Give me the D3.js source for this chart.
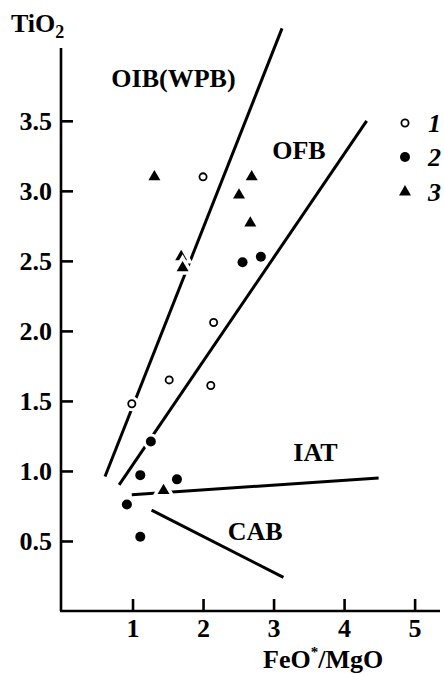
<!DOCTYPE html>
<html>
<head>
<meta charset="utf-8">
<script src="https://cdn.jsdelivr.net/npm/d3@7"></script>
<style>
  html, body { margin: 0; padding: 0; background: #fff; }
  svg { display: block; }
  svg text { font-family: "Liberation Serif", "DejaVu Serif", "Times New Roman", Times, serif !important; fill: #000; }
</style>
</head>
<body>
<svg id="chart" width="444" height="675"></svg>
<script>
// Sample groups: FeO*/MgO (x) vs TiO2 (y)
const group1X = [0.99, 1.52, 2.11, 2.15, 2.00];
const group1Y = [1.48, 1.65, 1.61, 2.06, 3.10];

const group2X = [1.26, 1.11, 1.63, 0.92, 1.11, 2.56, 2.82];
const group2Y = [1.21, 0.97, 0.94, 0.76, 0.53, 2.49, 2.53];

const group3X = [1.31, 2.69, 2.51, 2.67, 1.69, 1.71, 1.44];
const group3Y = [3.10, 3.10, 2.97, 2.77, 2.53, 2.45, 0.86];

// Discrimination boundaries (start and end points)
const boundaryNames = ["OIB-OFB", "OFB-IAT", "IAT", "CAB"];
const boundaryX = [[0.61, 3.12], [0.81, 4.32], [0.99, 4.49], [1.27, 3.14]];
const boundaryY = [[0.96, 4.16], [0.90, 3.50], [0.83, 0.95], [0.72, 0.24]];

// Field labels
const fieldNames = ["OIB(WPB)", "OFB", "IAT", "CAB"];
const fieldX = [0.70, 2.98, 3.28, 2.35];
const fieldY = [3.74, 3.23, 1.07, 0.51];

const xTicks = [1, 2, 3, 4, 5];
const yTicks = [0.5, 1.0, 1.5, 2.0, 2.5, 3.0, 3.5];
const legendLabels = ["1", "2", "3"];

const SERIF = "'Liberation Serif', 'DejaVu Serif', 'Times New Roman', Times, serif";

const svg = d3.select("#chart");
const x = d3.scaleLinear().domain([0, 5.36]).range([62, 440]);
const y = d3.scaleLinear().domain([0, 4.02]).range([611, 48]);

const FS = 26;

// Axes
const yAxis = d3.axisLeft(y).tickValues(yTicks).tickSize(-12).tickPadding(9)
  .tickFormat(d3.format(".1f"));
const xAxis = d3.axisBottom(x).tickValues(xTicks).tickSize(-12).tickPadding(8)
  .tickFormat(d3.format("d"));

const gy = svg.append("g").attr("transform", `translate(${x(0) - 1},0)`).call(yAxis);
const gx = svg.append("g").attr("transform", `translate(0,${y(0)})`).call(xAxis);
[gx, gy].forEach(g => {
  g.attr("font-family", SERIF).attr("font-size", FS);
  g.select(".domain").attr("stroke", "#000").attr("stroke-width", 2.6);
  g.selectAll(".tick line").attr("stroke", "#000").attr("stroke-width", 2.6);
  g.selectAll(".tick text").style("font-family", SERIF)
    .attr("font-size", FS).attr("font-weight", "bold").attr("fill", "#000");
});
gx.select(".domain").attr("d", `M${x(0) - 2},0H${x(5.36)}`);
gy.select(".domain").attr("d", `M0,${y(0)}V${y(4.02)}`);

// Boundary lines
const line = d3.line().x(d => x(d[0])).y(d => y(d[1]));
boundaryNames.forEach((name, i) => {
  svg.append("path")
    .attr("d", line([[boundaryX[i][0], boundaryY[i][0]], [boundaryX[i][1], boundaryY[i][1]]]))
    .attr("fill", "none").attr("stroke", "#000").attr("stroke-width", 3)
    .attr("stroke-linecap", "butt");
});

// Field labels
fieldNames.forEach((t, i) => {
  svg.append("text").attr("x", x(fieldX[i])).attr("y", y(fieldY[i]))
    .style("font-family", SERIF)
    .attr("font-size", FS).attr("font-weight", "bold").text(t);
});

// Marker drawing with a white halo so boundary lines break around points
const triPath = d3.symbol().type(d3.symbolTriangle);
function drawMarker(g, kind, cx, cy, halo) {
  if (kind === 1) {
    g.append("circle").attr("cx", cx).attr("cy", cy).attr("r", halo ? 7.5 : 3.6)
      .attr("fill", "#fff").attr("stroke", halo ? "none" : "#000").attr("stroke-width", 1.8);
  } else if (kind === 2) {
    g.append("circle").attr("cx", cx).attr("cy", cy).attr("r", halo ? 8 : 5)
      .attr("fill", halo ? "#fff" : "#000");
  } else {
    g.append("path").attr("d", triPath.size(halo ? 150 : 62)())
      .attr("transform", `translate(${cx},${cy})`)
      .attr("fill", halo ? "#fff" : "#000")
      .attr("stroke", halo ? "#fff" : "none").attr("stroke-width", halo ? 3 : 0);
  }
}

const pts = [];
group1X.forEach((v, i) => pts.push({ k: 1, x: v, y: group1Y[i] }));
group2X.forEach((v, i) => pts.push({ k: 2, x: v, y: group2Y[i] }));
group3X.forEach((v, i) => pts.push({ k: 3, x: v, y: group3Y[i] }));

const gp = svg.append("g");
pts.forEach(p => {
  drawMarker(gp, p.k, x(p.x), y(p.y), true);
  drawMarker(gp, p.k, x(p.x), y(p.y), false);
});

// Legend
const legendY = [123, 157, 192];
legendLabels.forEach((t, i) => {
  drawMarker(svg, i + 1, 405, legendY[i], false);
  svg.append("text").attr("x", 428).attr("y", legendY[i] + 9)
    .style("font-family", SERIF)
    .attr("font-size", FS).attr("font-weight", "bold").attr("font-style", "italic").text(t);
});

// Axis titles
const ty = svg.append("text").attr("x", 11).attr("y", 32)
  .style("font-family", SERIF).attr("font-size", FS).attr("font-weight", "bold");
ty.append("tspan").text("TiO");
ty.append("tspan").attr("font-size", 18).attr("dy", 6).text("2");

const tx = svg.append("text").attr("x", 263).attr("y", 668)
  .style("font-family", SERIF).attr("font-size", FS).attr("font-weight", "bold");
tx.append("tspan").text("FeO");
tx.append("tspan").attr("font-size", 15).attr("dy", -11).text("*");
tx.append("tspan").attr("dy", 11).text("/MgO");
</script>
</body>
</html>
